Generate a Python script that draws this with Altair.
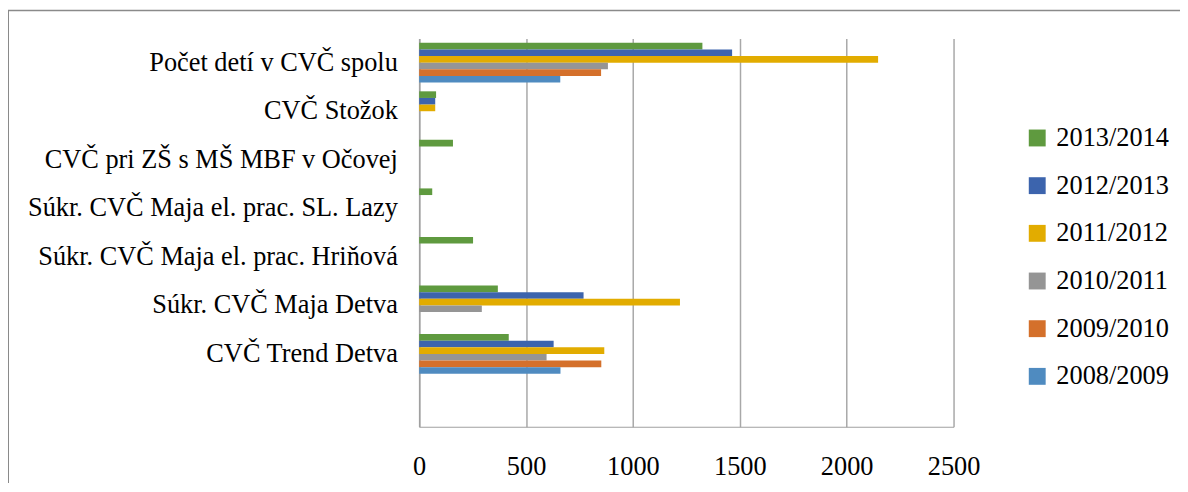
import altair as alt
import pandas as pd

categories = [
    "Počet detí v CVČ spolu",
    "CVČ Stožok",
    "CVČ pri ZŠ s MŠ MBF v Očovej",
    "Súkr. CVČ Maja el. prac. SL. Lazy",
    "Súkr. CVČ Maja el. prac. Hriňová",
    "Súkr. CVČ Maja Detva",
    "CVČ Trend Detva",
    " ",
]
seasons = ["2013/2014", "2012/2013", "2011/2012", "2010/2011", "2009/2010", "2008/2009"]
colors = ["#5F9A3F", "#3C64AD", "#E2AC00", "#959595", "#D4702B", "#4F8BC0"]

v_2013_2014 = [1325, 79, 158, 61, 252, 368, 419]
v_2012_2013 = [1464, 75, None, None, None, 769, 629]
v_2011_2012 = [2147, 75, None, None, None, 1220, 866]
v_2010_2011 = [883, None, None, None, None, 293, 596]
v_2009_2010 = [851, None, None, None, None, None, 852]
v_2008_2009 = [660, None, None, None, None, None, 661]
series_values = [v_2013_2014, v_2012_2013, v_2011_2012, v_2010_2011, v_2009_2010, v_2008_2009]

x_ticks = [0, 500, 1000, 1500, 2000, 2500]

rows = []
for s, vals in zip(seasons, series_values):
    for c, v in zip(categories, vals):
        if v is not None:
            rows.append({"kategoria": c, "obdobie": s, "pocet": v})
df = pd.DataFrame(rows)

FONT = "Liberation Serif"
FS = 26.5

bars = alt.Chart(df).mark_bar(cornerRadius=0).encode(
    y=alt.Y(
        "kategoria:N",
        scale=alt.Scale(domain=categories, paddingInner=0.18, paddingOuter=0.09),
        axis=alt.Axis(
            title=None, labelFont=FONT, labelFontSize=FS, labelColor="black",
            labelPadding=22, ticks=False, domainColor="#a0a0a0", domainWidth=1.5,
            grid=False, labelLimit=600,
        ),
    ),
    x=alt.X(
        "pocet:Q",
        scale=alt.Scale(domain=[0, 2500], nice=False),
        axis=alt.Axis(
            title=None, values=x_ticks, format="d", ticks=False, grid=True,
            gridColor="#a8a8a8", gridWidth=1.5, domainColor="#a0a0a0", domainWidth=1.2,
            labelFont=FONT, labelFontSize=FS, labelColor="black", labelPadding=27,
            labelFlush=False,
        ),
    ),
    yOffset=alt.YOffset(
        "obdobie:N", scale=alt.Scale(domain=seasons, paddingInner=0, paddingOuter=0)
    ),
    color=alt.Color(
        "obdobie:N",
        scale=alt.Scale(domain=seasons, range=colors),
        legend=alt.Legend(
            title=None, orient="none", legendX=609, legendY=87, symbolType="square",
            symbolSize=289, symbolStrokeWidth=0, labelFont=FONT, labelFontSize=FS,
            labelColor="black", rowPadding=21, labelOffset=6, padding=0,
            symbolOffset=0,
        ),
    ),
)

frame = alt.Chart(pd.DataFrame({"k": [0]})).mark_rect(
    filled=False, stroke="#8a8a8a", strokeWidth=1.5
).encode(
    x=alt.value(-413.75), x2=alt.value(1200), y=alt.value(-28), y2=alt.value(1000)
)

chart = alt.layer(frame, bars).properties(
    width=538,
    height=391,
    autosize=alt.AutoSizeParams(type="none"),
    padding={"left": 414, "top": 29, "right": 228, "bottom": 55},
    background="white",
).configure_view(strokeWidth=0)

chart.save("out.html", embed_options={"renderer": "svg", "actions": False})
